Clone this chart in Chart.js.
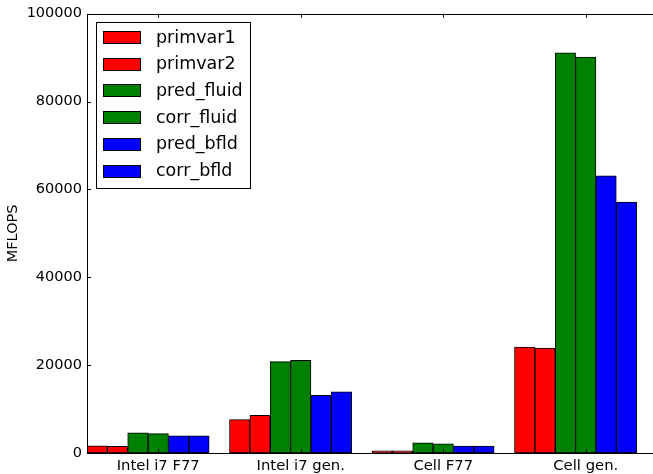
<!DOCTYPE html>
<html>
<head>
<meta charset="utf-8">
<script src="https://cdn.jsdelivr.net/npm/chart.js@4"></script>
<style>
  html, body { margin: 0; padding: 0; background: #fff; overflow: hidden; }
  #wrap { width: 662px; height: 474px; position: relative; }
</style>
</head>
<body>
<div id="wrap"><canvas id="c"></canvas></div>
<script>
const categories = ["Intel i7 F77", "Intel i7 gen.", "Cell F77", "Cell gen."];
const seriesNames = ["primvar1", "primvar2", "pred_fluid", "corr_fluid", "pred_bfld", "corr_bfld"];
const seriesColors = ["#ff0000", "#ff0000", "#008000", "#008000", "#0000ff", "#0000ff"];

const primvar1   = [1650, 7600, 500, 24100];
const primvar2   = [1500, 8600, 500, 23900];
const pred_fluid = [4600, 20800, 2300, 91100];
const corr_fluid = [4400, 21100, 2100, 90100];
const pred_bfld  = [3900, 13100, 1550, 63100];
const corr_bfld  = [3900, 13900, 1550, 57100];

const yTicks = [0, 20000, 40000, 60000, 80000, 100000];

const allSeries = [primvar1, primvar2, pred_fluid, corr_fluid, pred_bfld, corr_bfld];
const SLOT = 7; // 6 bars + 1 gap per category

const datasets = allSeries.map((vals, k) => ({
  label: seriesNames[k],
  data: vals.map((v, i) => ({ x: i + (k + 0.5) / SLOT, y: v })),
  backgroundColor: seriesColors[k],
  borderColor: "#000",
  borderWidth: 1,
  borderSkipped: false,
  grouped: false,
  categoryPercentage: 1,
  barPercentage: 1,
}));

// matplotlib-like frame, inward ticks and legend box
const mplFrame = {
  id: "mplFrame",
  afterDatasetsDraw(chart) {
    const { ctx, chartArea: a, scales } = chart;
    ctx.save();
    ctx.strokeStyle = "#000";
    ctx.lineWidth = 1;
    ctx.beginPath();
    scales.x.ticks.forEach((t, i) => {
      const px = Math.round(scales.x.getPixelForTick(i)) + 0.5;
      ctx.moveTo(px, a.bottom); ctx.lineTo(px, a.bottom - 4);
      ctx.moveTo(px, a.top); ctx.lineTo(px, a.top + 4);
    });
    scales.y.ticks.forEach((t, i) => {
      const py = Math.round(scales.y.getPixelForTick(i)) + 0.5;
      ctx.moveTo(a.left, py); ctx.lineTo(a.left + 4, py);
      ctx.moveTo(a.right, py); ctx.lineTo(a.right - 4, py);
    });
    ctx.stroke();
    ctx.strokeRect(Math.round(a.left) + 0.5, Math.round(a.top) + 0.5,
      Math.round(a.right - a.left), Math.round(a.bottom - a.top));

    // legend
    const lx = 96, ly = 22, lw = 154, lh = 166;
    ctx.fillStyle = "#fff";
    ctx.fillRect(lx, ly, lw, lh);
    ctx.strokeRect(lx + 0.5, ly + 0.5, lw, lh);
    ctx.font = "17.5px 'DejaVu Sans'";
    ctx.textBaseline = "middle";
    chart.data.datasets.forEach((d, i) => {
      const cy = 37 + i * 26.7;
      ctx.fillStyle = d.backgroundColor;
      ctx.fillRect(103, Math.round(cy - 6), 38, 13);
      ctx.strokeRect(103.5, Math.round(cy - 6) + 0.5, 37, 12);
      ctx.fillStyle = "#000";
      ctx.fillText(d.label, 156, cy + 1);
    });
    ctx.restore();
  }
};

new Chart(document.getElementById("c"), {
  type: "bar",
  data: { datasets },
  options: {
    responsive: true,
    maintainAspectRatio: false,
    animation: false,
    layout: { padding: { top: 13, right: 5, left: 0, bottom: 0 } },
    plugins: { legend: { display: false }, tooltip: { enabled: false } },
    scales: {
      x: {
        type: "linear",
        offset: false,
        min: 0,
        max: categories.length,
        grid: { display: false, drawTicks: false, offset: false },
        border: { display: false },
        afterBuildTicks: (s) => { s.ticks = categories.map((c, i) => ({ value: i + 0.5 })); },
        afterFit: (s) => { s.height = 21; },
        ticks: {
          color: "#000",
          padding: 4,
          maxRotation: 0,
          autoSkip: false,
          font: { family: "DejaVu Sans", size: 14.8 },
          callback: (v) => categories[Math.floor(v)],
        },
      },
      y: {
        min: 0,
        max: 100000,
        grid: { display: false, drawTicks: false },
        border: { display: false },
        afterBuildTicks: (s) => { s.ticks = yTicks.map(v => ({ value: v })); },
        afterFit: (s) => { s.width = 87; },
        ticks: {
          color: "#000",
          padding: 5,
          font: { family: "DejaVu Sans", size: 14.5 },
          callback: (v) => String(v),
        },
        title: {
          display: true,
          text: "MFLOPS",
          color: "#000",
          padding: { top: 5, bottom: 0 },
          font: { family: "DejaVu Sans", size: 14.5 },
        },
      },
    },
  },
  plugins: [mplFrame],
});
</script>
</body>
</html>
